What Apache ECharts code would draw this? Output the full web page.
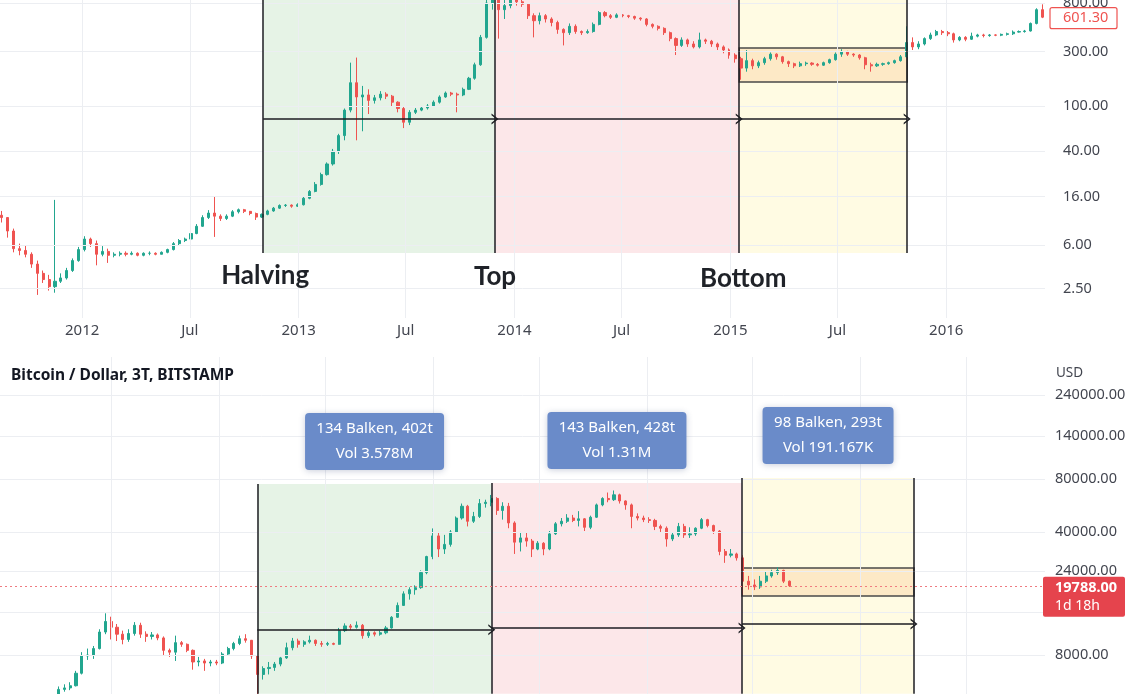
<!DOCTYPE html>
<html><head><meta charset="utf-8">
<script src="https://cdn.jsdelivr.net/npm/echarts@6/dist/echarts.min.js"></script>
<style>html,body{margin:0;padding:0;background:#fff}#c{width:1140px;height:694px}</style>
</head><body><div id="c"></div>
<script>
// ---------- data ----------
const stepDays = 10;
const topStart = '2011-08-18';
const botStart = '2019-04-01';
const topRange = ['2011-08-15', '2016-06-16'];
const botRange = ['2018-12-22', '2023-11-13'];
// [open, close, low, high]
const topOHLC = [
[11,10.5,9.5,12],[10.5,8,7,10.6],[8,5.6,5.2,8.4],[5.6,5.4,4.9,6.2],[5.4,5,4.7,6],[5,4.1,3.8,5.2],[4.1,3.4,2.2,4.4],[3.4,3,2.8,3.6],[3,2.6,2.4,3.3],[2.6,2.9,2.3,15],
[2.9,3.1,2.8,3.4],[3.1,3.6,3,3.8],[3.6,4.4,3.5,4.6],[4.4,5.5,4.3,5.8],[5.5,6.8,5.3,7.2],[6.8,6.2,5.8,7],[6.2,5,4,6.6],[5,5.3,4.8,5.9],[5.3,4.9,4.2,5.6],[4.9,5,4.7,5.2],
[5,5.1,4.8,5.3],[5.1,5,4.8,5.3],[5,5.1,4.9,5.3],[5.1,4.9,4.8,5.2],[4.9,5.1,4.8,5.2],[5.1,5.1,4.9,5.3],[5.1,5,4.9,5.2],[5,5.2,5,5.3],[5.2,5.5,5.1,5.6],[5.5,6.2,5.4,6.4],
[6.2,6.6,6,6.8],[6.6,6.8,6.4,7],[6.8,7.6,6.7,7.9],[7.6,8.8,7.5,9.2],[8.8,10.5,8.7,11],[10.5,11.5,10.2,12.2],[11.5,10.8,7.1,16.2],[10.8,10.3,9.8,11.2],[10.3,10.8,10,11.2],[10.8,11.8,10.6,12.2],
[11.8,12.3,11.4,12.6],[12.3,11.9,11.5,12.5],[11.9,11.4,11,12],[11.4,10.6,10,11.6],[10.6,11.2,10.4,11.4],[11.2,12,11,12.3],[12,12.7,11.8,13],[12.7,13.4,12.5,13.7],[13.4,13.5,13,13.8],[13.5,13.2,12.8,13.7],
[13.2,13.6,13,14],[13.6,15.5,13.4,16],[15.5,17.8,15.2,18.3],[17.8,20.5,17.5,21.5],[20.5,25,20,26],[25,31,24.5,32],[31,40,30,42],[40,55,38,57],[55,92,50,95],[92,160,88,240],
[160,120,50,266],[120,125,60,150],[125,112,85,140],[112,118,105,125],[118,127,112,135],[127,122,115,132],[122,108,100,125],[108,95,88,110],[95,72,64,98],[72,88,68,92],
[88,92,85,96],[92,96,90,100],[96,100,93,104],[100,108,98,112],[108,120,105,124],[120,130,118,134],[130,127,122,133],[127,125,88,131],[125,140,122,145],[140,175,138,180],
[175,230,170,240],[230,400,225,420],[400,800,390,900],[800,1050,700,1160],[1050,700,390,1100],[700,760,580,850],[760,850,720,900],[850,820,760,900],[820,780,740,860],[780,620,580,800],
[620,560,400,650],[560,620,520,660],[620,580,540,640],[580,540,500,600],[540,470,430,560],[470,440,340,480],[440,500,420,530],[500,450,430,520],[450,440,420,460],[440,450,430,470],
[450,520,440,540],[520,660,510,680],[660,620,600,680],[620,600,580,640],[600,630,590,650],[630,620,600,640],[620,610,590,630],[610,590,570,620],[590,580,560,600],[580,520,500,590],
[520,500,480,530],[500,480,460,510],[480,440,420,490],[440,390,370,450],[390,340,280,400],[340,380,330,400],[380,350,330,390],[350,330,320,370],[330,380,320,440],[380,370,350,390],
[370,350,330,380],[350,330,310,360],[330,310,290,340],[310,280,260,320],[280,260,240,290],[260,215,170,270],[215,250,200,310],[250,225,210,260],[225,240,215,250],[240,260,230,270],
[260,285,250,295],[285,270,255,290],[270,245,235,275],[245,235,220,250],[235,225,215,240],[225,235,220,245],[235,238,225,245],[238,232,225,242],[232,228,222,238],[228,240,225,245],
[240,255,235,260],[255,285,250,295],[285,300,270,315],[300,285,275,305],[285,280,270,290],[280,265,255,285],[265,230,210,270],[230,225,200,240],[225,232,220,240],[232,235,225,240],
[235,240,230,245],[240,250,235,255],[250,270,245,280],[270,360,265,500],[360,330,310,400],[330,350,315,370],[350,390,340,400],[390,420,380,440],[420,450,410,465],[450,440,420,465],
[440,430,410,455],[430,380,360,440],[380,400,370,410],[400,385,370,410],[385,410,380,440],[410,420,400,430],[420,415,400,430],[415,420,405,428],[420,418,410,425],[418,425,410,432],
[425,430,415,440],[430,445,420,460],[445,450,440,460],[450,455,440,465],[455,530,450,540],[530,700,520,720],[700,601.3,590,780]
];
const botOHLC = [
[4100,5100,4050,5300],[5100,5200,4950,5450],[5200,5350,5050,5600],[5350,6300,5300,6500],[6300,7900,6200,8300],[7900,8000,7500,8700],[8000,8700,7600,9000],[8700,10800,8600,11200],[10800,12400,10500,13800],[12400,11500,9800,13200],
[11500,10500,9600,12000],[10500,9800,9200,11000],[9800,10600,9500,11200],[10600,11800,10300,12300],[11800,10500,10000,12200],[10500,10200,9500,10900],[10200,10400,9800,10800],[10400,10000,9700,10600],[10000,8500,8000,10200],[8500,8300,7800,8700],
[8300,9400,7400,10300],[9400,9200,8900,9600],[9200,8500,8300,9300],[8500,7300,6600,8600],[7300,7400,6900,7800],[7400,7200,6500,7600],[7200,7300,6900,7500],[7300,7200,7000,7500],[7200,8100,7100,8300],[8100,8700,8000,8900],
[8700,9300,8500,9500],[9300,9900,9100,10300],[9900,9700,9400,10500],[9700,7900,7600,9200],[7900,6200,3850,8000],[6200,6700,5800,6900],[6700,6800,6200,7300],[6800,7100,6500,7300],[7100,7700,6900,7800],[7700,8800,7600,9400],
[8800,9600,8500,10000],[9600,9200,8800,9900],[9200,9500,8900,9700],[9500,9700,9300,10300],[9700,9300,9000,9800],[9300,9200,8900,9600],[9200,9300,9000,9500],[9300,9200,9100,9400],[9200,11000,9150,11400],[11000,11700,10800,12100],
[11700,11500,11100,12000],[11500,11800,11300,12400],[11800,10300,9900,12000],[10300,10700,10000,11000],[10700,10500,10200,10900],[10500,10700,10300,11000],[10700,11400,10500,11700],[11400,13100,11300,13300],[13100,15300,13000,15900],[15300,17800,15200,18400],
[17800,18800,16500,19400],[18800,19300,17600,19900],[19300,23500,19000,24200],[23500,29000,23000,29300],[29000,38000,28000,41900],[38000,32000,28800,40000],[32000,34000,30000,38500],[34000,40000,33000,41000],[40000,48000,39500,49000],[48000,56000,47000,58000],
[56000,46000,43000,57000],[46000,49000,45000,52000],[49000,58000,48000,61500],[58000,59000,55000,61000],[59000,62000,56000,64900],[62000,53000,50000,63000],[53000,56000,47000,59000],[56000,45000,42000,58500],[45000,35000,30000,46000],[35000,37000,31000,40000],
[37000,35500,33000,39500],[35500,32000,28800,36500],[32000,34500,31500,35500],[34500,32000,29500,35000],[32000,39000,31500,40500],[39000,44500,38500,45500],[44500,46000,43000,48000],[46000,48000,45000,50500],[48000,46500,45500,50000],[46500,47500,43000,52500],
[47500,42500,40500,48000],[42500,48500,41500,49500],[48500,57000,48000,58000],[57000,62000,56000,63000],[62000,61000,59000,67000],[61000,65000,60000,68800],[65000,60000,58000,66000],[60000,57000,53500,60500],[57000,49000,42000,58000],[49000,48000,46500,51000],
[48000,47000,45500,49500],[47000,46500,45000,48500],[46500,43000,41000,47500],[43000,42000,40000,44000],[42000,36500,33000,43000],[36500,38500,35500,39500],[38500,43000,37500,45000],[43000,38500,37000,44500],[38500,39000,37000,42500],[39000,42000,38000,42500],
[42000,47000,41500,48000],[47000,43500,42500,47500],[43500,40500,39000,44000],[40500,31000,29500,41000],[31000,29500,26700,32000],[29500,30000,28700,32000],[30000,28500,27500,30500],[28500,21000,17600,29500],[21000,20000,18800,22500],[20000,19500,18700,21500],
[19500,21000,19000,22500],[21000,22500,20500,24000],[22500,23500,22000,24400],[23500,24200,22800,25200],[24200,21000,20500,24400],[21000,19788,19500,21200]
];
const topYTicks = [800, 300, 100, 40, 16, 6, 2.5];
const botYTicks = [400000, 240000, 140000, 80000, 40000, 24000, 14000, 8000];
const topXTicks = [['2012-01-01','2012'],['2012-07-01','Jul'],['2013-01-01','2013'],['2013-07-01','Jul'],['2014-01-01','2014'],['2014-07-01','Jul'],['2015-01-01','2015'],['2015-07-01','Jul'],['2016-01-01','2016']];
const botXTicks = [['2019-07-01'],['2020-01-01'],['2020-07-01'],['2021-01-01'],['2021-07-01'],['2022-01-01'],['2022-07-01'],['2023-01-01'],['2023-07-01']];
const topPhases = ['2012-11-02', '2013-11-29', '2015-01-16', '2015-10-27'];
const botPhases = ['2020-03-06', '2021-04-11', '2022-06-13', '2023-04-03'];
const phaseNames = ['Halving', 'Top', 'Bottom'];
const measureLabels = [['134 Balken, 402t', 'Vol 3.578M'], ['143 Balken, 428t', 'Vol 1.31M'], ['98 Balken, 293t', 'Vol 191.167K']];
const topLast = 601.30, botLast = 19788.00, botCountdown = '1d 18h';
const topZone = {lo: 5.13, hi: [850, 850, 850], box: [162.4, 323], arrow: [76.9, 76.9, 76.9]};
const botZone = {lo: 4810, hi: [74900, 75800, 81000], box: [17300, 24970], arrow: [11130, 11380, 12000]};
const title = 'Bitcoin / Dollar, 3T, BITSTAMP';

// ---------- helpers ----------
const FONT = '"Noto Sans", sans-serif';
const AX = '#42454f', UP = '#22a68f', DOWN = '#ef5350', INK = '#1c1d22';
const DAY = 864e5;
function ts(s){const p=s.split('-').map(Number);return new Date(p[0],p[1]-1,p[2]).getTime();}
function candles(start, rows){const t0=ts(start);return rows.map((r,i)=>[t0+i*stepDays*DAY,r[0],r[1],r[2],r[3]]);}
const CHEV = 'path://M0,10 L5,0 L10,10 L8.4,10 L5,3.2 L1.6,10 Z';

function regionSeries(g, phases, z){
  const cols=['#e6f3e6','#fce7e9','#fffbe3'];
  const data=[0,1,2].map(i=>[{coord:[ts(phases[i]),z.lo],itemStyle:{color:cols[i]}},{coord:[ts(phases[i+1]),z.hi[i]]}]);
  data.push([{coord:[ts(phases[2]),z.box[0]],itemStyle:{color:'#fde9c6',borderColor:'#4a4a4a',borderWidth:1.5}},{coord:[ts(phases[3]),z.box[1]]}]);
  return {type:'line',xAxisIndex:g,yAxisIndex:g,data:[],z:1,silent:true,markArea:{silent:true,data}};
}
function gridSeries(g, yTicks, dist, xTicks, labelY){
  const data=[];
  yTicks.forEach(v=>data.push({yAxis:v,label:{show:labelY(v),position:'end',distance:dist,formatter:v.toFixed(2),color:AX,fontSize:14.5,fontFamily:FONT}}));
  xTicks.forEach(t=>data.push({xAxis:ts(t[0]),label:{show:!!t[1],position:'start',distance:5,formatter:t[1]||'',color:AX,fontSize:15,fontFamily:FONT}}));
  return {type:'line',xAxisIndex:g,yAxisIndex:g,data:[],z:2,silent:true,
    markLine:{silent:true,symbol:['none','none'],lineStyle:{color:'#eceef2',width:1,type:'solid'},data}};
}
function candleSeries(g, start, rows){
  return {type:'candlestick',xAxisIndex:g,yAxisIndex:g,data:candles(start,rows),encode:{x:0,y:[1,2,3,4]},
    barWidth:2.6,z:3,silent:true,itemStyle:{color:UP,color0:DOWN,borderColor:UP,borderColor0:DOWN,borderWidth:1}};
}
function frameSeries(g, phases, z){
  const hiAt=[z.hi[0],Math.max(z.hi[0],z.hi[1]),Math.max(z.hi[1],z.hi[2]),z.hi[2]];
  const data=phases.map((p,i)=>[{coord:[ts(p),z.lo]},{coord:[ts(p),hiAt[i]]}]);
  return {type:'line',xAxisIndex:g,yAxisIndex:g,data:[],z:4,silent:true,
    markLine:{silent:true,symbol:['none','none'],label:{show:false},lineStyle:{color:INK,width:1.5,type:'solid'},data}};
}
function arrowSeries(g, phases, z){
  const data=[0,1,2].map(i=>[{coord:[ts(phases[i]),z.arrow[i]]},{coord:[ts(phases[i+1]),z.arrow[i]]}]);
  return {type:'line',xAxisIndex:g,yAxisIndex:g,data:[],z:4,silent:true,
    markLine:{silent:true,symbol:['none',CHEV],symbolSize:[11,7],label:{show:false},
      itemStyle:{color:INK},lineStyle:{color:INK,width:1.6,type:'solid'},data}};
}

const chart = echarts.init(document.getElementById('c'));
const axisOff = {axisLine:{show:false},axisTick:{show:false},axisLabel:{show:false},splitLine:{show:false}};
chart.setOption({
  animation:false,
  backgroundColor:'#ffffff',
  textStyle:{fontFamily:FONT},
  grid:[{left:0,top:0,width:1045,height:318},{left:0,top:357,width:1045,height:337}],
  xAxis:[Object.assign({type:'time',gridIndex:0,min:ts(topRange[0]),max:ts(topRange[1])},axisOff),
         Object.assign({type:'time',gridIndex:1,min:ts(botRange[0]),max:ts(botRange[1])},axisOff)],
  yAxis:[Object.assign({type:'log',logBase:10,gridIndex:0,min:1.38,max:851},axisOff),
         Object.assign({type:'log',logBase:10,gridIndex:1,min:4802,max:394500},axisOff)],
  series:[
    regionSeries(0, topPhases, topZone),
    gridSeries(0, topYTicks, 18, topXTicks, ()=>true),
    candleSeries(0, topStart, topOHLC),
    frameSeries(0, topPhases, topZone),
    arrowSeries(0, topPhases, topZone),
    regionSeries(1, botPhases, botZone),
    gridSeries(1, botYTicks, 10, botXTicks, v=>v<300000),
    candleSeries(1, botStart, botOHLC),
    frameSeries(1, botPhases, botZone),
    arrowSeries(1, botPhases, botZone),
    {type:'line',xAxisIndex:1,yAxisIndex:1,data:[],z:5,silent:true,
      markLine:{silent:true,symbol:['none','none'],label:{show:false},lineStyle:{color:'#f07a80',width:1.2,type:[2,3]},data:[{yAxis:botLast}]}}
  ]
});

// ---------- annotation graphics positioned from data coords ----------
const P=(g,t,v)=>chart.convertToPixel({gridIndex:g},[t,v]);
const gfx=[];
gfx.push({type:'text',x:11,y:376,z:20,style:{text:title,font:'bold 15.5px '+FONT,fill:'#131722',align:'left',verticalAlign:'middle'}});
gfx.push({type:'text',x:1056,y:373,z:20,style:{text:'USD',font:'13.5px '+FONT,fill:AX,align:'left',verticalAlign:'middle'}});
const phaseY=[275.5,276.5,279];
const phaseDx=[2,0,4];
phaseNames.forEach((n,i)=>{
  const x=P(0,ts(topPhases[i]),10)[0]+phaseDx[i];
  gfx.push({type:'text',x:x,y:phaseY[i],z:20,style:{text:n,font:'bold 26px Lato, '+FONT,fill:'#1f2228',align:'center',verticalAlign:'middle'}});
});
const boxW=[139,139,131];
measureLabels.forEach((lab,i)=>{
  const x0=P(1,ts(botPhases[i]),10000)[0], x1=P(1,ts(botPhases[i+1]),10000)[0];
  const top=P(1,ts(botPhases[i]),botZone.hi[i])[1];
  const cx=(x0+x1)/2, by=top-14-57;
  gfx.push({type:'rect',z:20,shape:{x:cx-boxW[i]/2,y:by,width:boxW[i],height:57,r:4},
    style:{fill:'#6a8bc9',shadowBlur:6,shadowColor:'rgba(40,60,110,0.25)',shadowOffsetY:1}});
  gfx.push({type:'text',z:21,x:cx,y:by+16,style:{text:lab[0],font:'15px '+FONT,fill:'#ffffff',align:'center',verticalAlign:'middle'}});
  gfx.push({type:'text',z:21,x:cx,y:by+41,style:{text:lab[1],font:'15px '+FONT,fill:'#ffffff',align:'center',verticalAlign:'middle'}});
});
// last price tags
const ty=P(0,ts(topRange[1]),topLast)[1];
gfx.push({type:'rect',z:20,shape:{x:1050,y:ty-9.5,width:67,height:21,r:2},style:{fill:'#ffffff',stroke:DOWN,lineWidth:1.2}});
gfx.push({type:'text',z:21,x:1063,y:ty+1,style:{text:topLast.toFixed(2),font:'14.5px '+FONT,fill:DOWN,align:'left',verticalAlign:'middle'}});
const by2=P(1,ts(botRange[1]),botLast)[1];
gfx.push({type:'rect',z:20,shape:{x:1043,y:by2-9,width:82,height:40,r:2},style:{fill:'#e5444d'}});
gfx.push({type:'text',z:21,x:1055,y:by2+2,style:{text:botLast.toFixed(2),font:'bold 14.5px '+FONT,fill:'#ffffff',align:'left',verticalAlign:'middle'}});
gfx.push({type:'text',z:21,x:1055,y:by2+20,style:{text:botCountdown,font:'14px '+FONT,fill:'#ffffff',align:'left',verticalAlign:'middle'}});
chart.setOption({graphic:{elements:gfx}});
</script>
</body></html>
